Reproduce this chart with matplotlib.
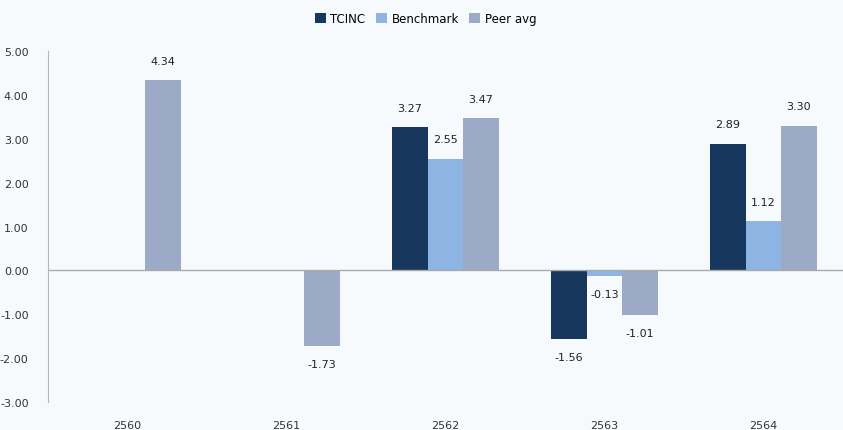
import numpy as np
import matplotlib
matplotlib.use('Agg')
import matplotlib.pyplot as plt

years = ['2560', '2561', '2562', '2563', '2564']
tcinc = [np.nan, np.nan, 3.27, -1.56, 2.89]
benchmark = [np.nan, np.nan, 2.55, -0.13, 1.12]
peer_avg = [4.34, -1.73, 3.47, -1.01, 3.30]

series = [('TCINC', tcinc, '#17375E'),
          ('Benchmark', benchmark, '#8DB4E2'),
          ('Peer avg', peer_avg, '#9CAAC7')]

bg = '#F7FAFD'
fig = plt.figure(figsize=(8.43, 4.31), dpi=100, facecolor=bg)
ax = fig.add_axes([0.057, 0.065, 0.943, 0.814], facecolor=bg)

x = np.arange(len(years))
w = 0.223
for i, (name, vals, col) in enumerate(series):
    pos = x + (i - 1) * w
    ax.bar(pos, vals, width=w, color=col, label=name)
    for p, v in zip(pos, vals):
        if np.isnan(v):
            continue
        off = 14 if v >= 0 else -13
        ax.annotate(f'{v:.2f}', (p, v), xytext=(0, off), textcoords='offset points',
                    ha='center', va='center', fontsize=8, color='#222222')

ax.set_xlim(-0.5, len(years) - 0.5)
ax.set_ylim(-3, 5)
ax.set_yticks(np.arange(-3, 6, 1))
ax.set_yticklabels([f'{t:.2f}' for t in np.arange(-3, 6, 1)])
ax.set_xticks(x)
ax.set_xticklabels(years)
ax.tick_params(length=0, labelsize=8, colors='#333333')
ax.tick_params(axis='x', pad=13)
ax.tick_params(axis='y', pad=14)
for s in ['top', 'right', 'bottom']:
    ax.spines[s].set_visible(False)
ax.spines['left'].set_color('#B5B5B5')
ax.axhline(0, color='#AAAAAA', linewidth=1)

fig.legend(loc='upper center', bbox_to_anchor=(0.505, 0.995), ncol=3, frameon=False,
           fontsize=8.5, handlelength=0.9, handleheight=0.9, handletextpad=0.4,
           columnspacing=0.9)

fig.savefig('out.png', dpi=100, facecolor=bg)
